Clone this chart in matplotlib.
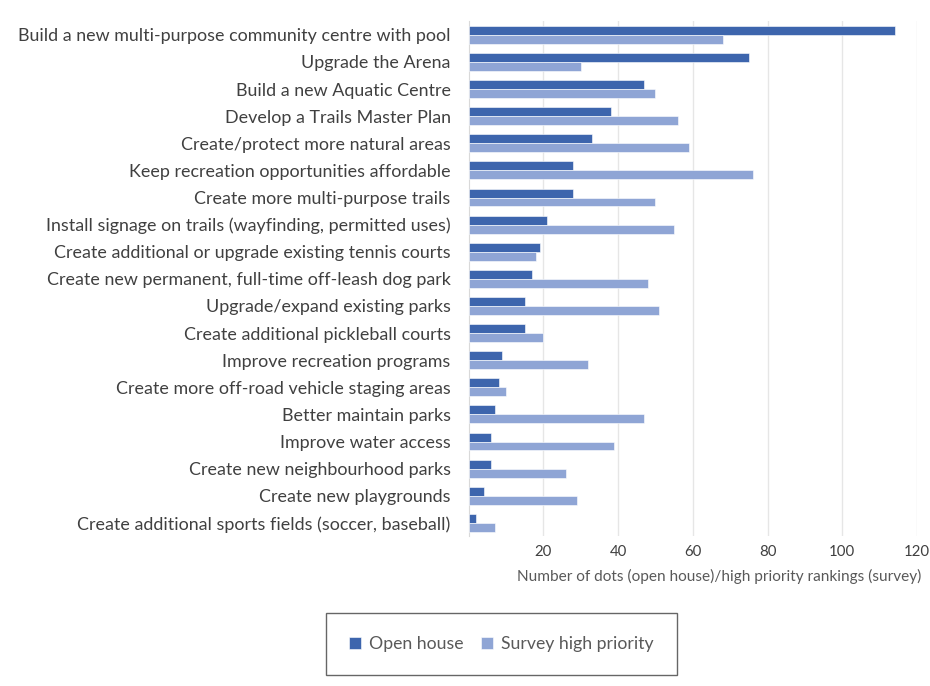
import numpy as np
import matplotlib.pyplot as plt

# Priority items, top to bottom
items = [
    "Build a new multi-purpose community centre with pool",
    "Upgrade the Arena",
    "Build a new Aquatic Centre",
    "Develop a Trails Master Plan",
    "Create/protect more natural areas",
    "Keep recreation opportunities affordable",
    "Create more multi-purpose trails",
    "Install signage on trails (wayfinding, permitted uses)",
    "Create additional or upgrade existing tennis courts",
    "Create new permanent, full-time off-leash dog park",
    "Upgrade/expand existing parks",
    "Create additional pickleball courts",
    "Improve recreation programs",
    "Create more off-road vehicle staging areas",
    "Better maintain parks",
    "Improve water access",
    "Create new neighbourhood parks",
    "Create new playgrounds",
    "Create additional sports fields (soccer, baseball)",
]
open_house = [114, 75, 47, 38, 33, 28, 28, 21, 19, 17, 15, 15, 9, 8, 7, 6, 6, 4, 2]
survey_high = [68, 30, 50, 56, 59, 76, 50, 55, 18, 48, 51, 20, 32, 10, 47, 39, 26, 29, 7]
x_ticks = [20, 40, 60, 80, 100, 120]

dark = "#3D65AD"
light = "#8FA5D5"
text_col = "#404040"

plt.rcParams["font.family"] = ["Lato", "DejaVu Sans"]

fig = plt.figure(figsize=(9.3, 6.86), dpi=100)
ax = fig.add_axes([0.504, 0.218, 0.482, 0.751])

y = np.arange(len(items))
h = 0.33
ax.barh(y - h / 2, open_house, height=h, color=dark, edgecolor="white",
        linewidth=0.4, label="Open house", zorder=3)
ax.barh(y + h / 2, survey_high, height=h, color=light, edgecolor="white",
        linewidth=0.4, label="Survey high priority", zorder=3)

ax.set_ylim(len(items) - 0.5, -0.5)
ax.set_xlim(0, 120)
ax.set_yticks(y)
ax.set_yticklabels(items, fontsize=12.9, color=text_col)
ax.set_xticks(x_ticks)
ax.set_xticklabels([str(t) for t in x_ticks], fontsize=10.8, color=text_col)
ax.tick_params(axis="both", length=0)
ax.tick_params(axis="y", pad=13)
ax.tick_params(axis="x", pad=6)

ax.grid(axis="x", color="#E6E6E6", linewidth=1, zorder=0)
for side in ["top", "right", "bottom"]:
    ax.spines[side].set_visible(False)
ax.spines["left"].set_color("#D9D9D9")

fig.text(0.991, 0.159, "Number of dots (open house)/high priority rankings (survey)",
         ha="right", va="center", fontsize=11.1, color="#595959")

leg = fig.legend(loc="center", bbox_to_anchor=(0.539, 0.061), ncol=2,
                 fontsize=12.7, frameon=True, fancybox=False, edgecolor="#404040",
                 handlelength=0.7, handleheight=0.7, handletextpad=0.45,
                 columnspacing=1.0, borderpad=1.3, borderaxespad=0)
for t in leg.get_texts():
    t.set_color("#595959")
leg.get_frame().set_linewidth(1.0)

fig.savefig("out.png", dpi=100)
